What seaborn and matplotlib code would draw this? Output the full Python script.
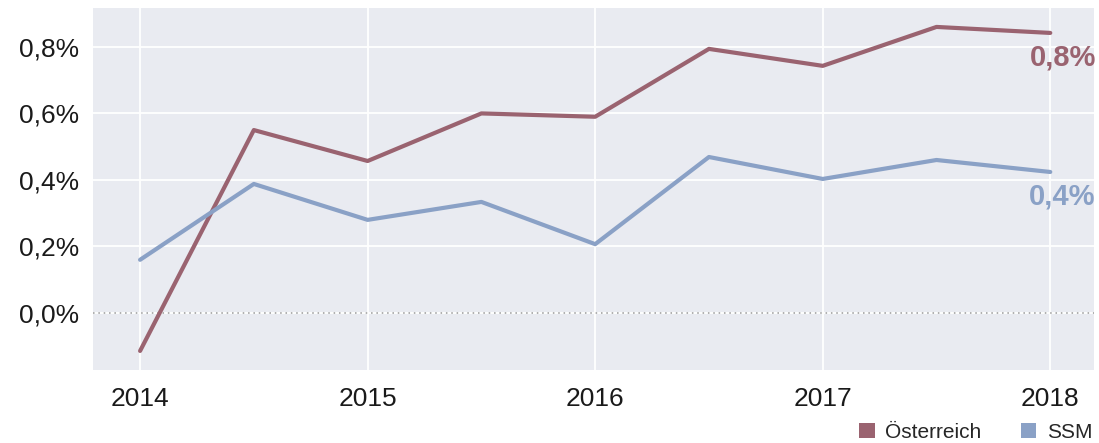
import matplotlib
matplotlib.use("Agg")
import matplotlib.pyplot as plt
import seaborn as sns
import pandas as pd
from matplotlib.patches import Patch
from matplotlib.ticker import FuncFormatter

periods = [2014.0, 2014.5, 2015.0, 2015.5, 2016.0, 2016.5, 2017.0, 2017.5, 2018.0]
oesterreich = [-0.114, 0.55, 0.457, 0.60, 0.59, 0.794, 0.743, 0.86, 0.842]
ssm = [0.16, 0.388, 0.28, 0.334, 0.207, 0.469, 0.403, 0.46, 0.424]
series_names = ["Österreich", "SSM"]
end_labels = ["0,8%", "0,4%"]
year_ticks = [2014, 2015, 2016, 2017, 2018]
y_ticks = [0.0, 0.2, 0.4, 0.6, 0.8]

colors = {"Österreich": "#9a6370", "SSM": "#8aa1c6"}

df = pd.DataFrame({
    "period": periods * 2,
    "value": oesterreich + ssm,
    "series": [series_names[0]] * len(periods) + [series_names[1]] * len(periods),
})

sns.set_theme(style="darkgrid", rc={"axes.facecolor": "#e9ebf1", "grid.color": "white", "grid.linewidth": 1.3})
plt.rcParams["font.family"] = ["Liberation Sans", "DejaVu Sans"]

fig = plt.figure(figsize=(10.99, 4.43), dpi=100)
ax = fig.add_axes([0.0846, 0.165, 0.9104, 0.817])

sns.lineplot(data=df, x="period", y="value", hue="series", palette=colors,
             linewidth=3.0, legend=False, ax=ax, zorder=3)

ax.axhline(0, color="#999999", linestyle=(0, (1, 2.5)), linewidth=1.1, zorder=2)

ax.set_xlim(2013.793, 2018.19)
ax.set_ylim(-0.171, 0.917)
ax.set_xticks(year_ticks)
ax.set_xticklabels([str(y) for y in year_ticks])
ax.set_yticks(y_ticks)
ax.yaxis.set_major_formatter(FuncFormatter(lambda v, p: f"{v:.1f}%".replace(".", ",")))
ax.tick_params(axis="both", labelsize=19, colors="#1a1a1a")
ax.tick_params(axis="x", pad=6)
ax.tick_params(axis="y", pad=4)
ax.set_xlabel("")
ax.set_ylabel("")
for s in ax.spines.values():
    s.set_visible(False)

ax.text(2018.2, 0.767, end_labels[0], color=colors["Österreich"], fontsize=21,
        fontweight="bold", ha="right", va="center", clip_on=False, zorder=4)
ax.text(2018.2, 0.349, end_labels[1], color=colors["SSM"], fontsize=21,
        fontweight="bold", ha="right", va="center", clip_on=False, zorder=4)

handles = [Patch(facecolor=colors[n], edgecolor="none", label=n) for n in series_names]
fig.legend(handles=handles, loc="lower right", bbox_to_anchor=(1.011, -0.04), ncol=2,
           frameon=False, fontsize=15, handlelength=0.75, handleheight=0.75,
           handletextpad=0.5, columnspacing=1.9)

fig.savefig("out.png", dpi=100)
